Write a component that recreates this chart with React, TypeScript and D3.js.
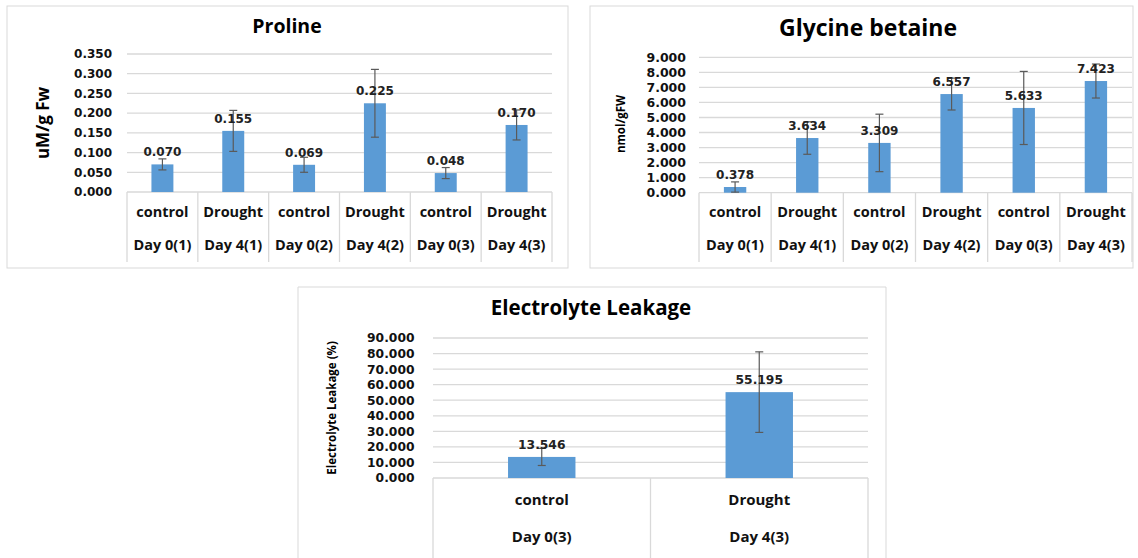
import React from "react";
import * as d3 from "d3";

// ---------- data ----------
const prolineTreatments = ["control", "Drought", "control", "Drought", "control", "Drought"];
const prolineDays = ["Day 0(1)", "Day 4(1)", "Day 0(2)", "Day 4(2)", "Day 0(3)", "Day 4(3)"];
const prolineValues = [0.07, 0.155, 0.069, 0.225, 0.048, 0.17];
const prolineErrors = [0.014, 0.052, 0.019, 0.086, 0.014, 0.038];
const prolineTicks = [0, 0.05, 0.1, 0.15, 0.2, 0.25, 0.3, 0.35];

const glycineTreatments = ["control", "Drought", "control", "Drought", "control", "Drought"];
const glycineDays = ["Day 0(1)", "Day 4(1)", "Day 0(2)", "Day 4(2)", "Day 0(3)", "Day 4(3)"];
const glycineValues = [0.378, 3.634, 3.309, 6.557, 5.633, 7.423];
const glycineErrors = [0.34, 1.08, 1.91, 1.06, 2.43, 1.13];
const glycineTicks = [0, 1, 2, 3, 4, 5, 6, 7, 8, 9];

const elTreatments = ["control", "Drought"];
const elDays = ["Day 0(3)", "Day 4(3)"];
const elValues = [13.546, 55.195];
const elErrors = [5.5, 25.9];
const elTicks = [0, 10, 20, 30, 40, 50, 60, 70, 80, 90];

// ---------- styles ----------
const BAR = "#5b9bd5";
const GRID = "#d9d9d9";
const ERR = "#5a5a5a";
const NUMFONT = "'DejaVu Sans', Verdana, sans-serif";
const TXTFONT = "'Open Sans', 'Noto Sans', sans-serif";

type PanelProps = {
  box: [number, number, number, number];
  plot: { left: number; right: number; top: number; bottom: number };
  title: string;
  titleX: number;
  titleY: number;
  titleSize: number;
  yTitle: React.ReactNode;
  yTitleX: number;
  yTitleY: number;
  yTitleSize: number;
  treatments: string[];
  days: string[];
  values: number[];
  errors: number[];
  ticks: number[];
  fmt: (v: number) => string;
  catY1: number;
  catY2: number;
  sepBottom: number;
  tickSize: number;
  tickGap: number;
  labelSize: number;
  catSize: number;
  openBottom?: boolean;
};

function Panel(p: PanelProps) {
  const { plot } = p;
  const cats = p.values.map((_, i) => String(i));
  const x = d3.scaleBand<string>().domain(cats).range([plot.left, plot.right]).padding(0);
  const y = d3
    .scaleLinear()
    .domain([0, p.ticks[p.ticks.length - 1]])
    .range([plot.bottom, plot.top]);
  const bw = x.bandwidth() * 0.31;
  const [bx, by, bwid, bh] = p.box;
  return (
    <g>
      {p.openBottom ? (
        <path
          d={`M${bx},${by + bh}V${by}H${bx + bwid}V${by + bh}`}
          fill="#fff"
          stroke={GRID}
          strokeWidth={1}
        />
      ) : (
        <rect x={bx} y={by} width={bwid} height={bh} fill="#fff" stroke={GRID} strokeWidth={1} />
      )}
      <text
        x={p.titleX}
        y={p.titleY}
        textAnchor="middle"
        fontFamily={TXTFONT}
        fontWeight="bold"
        fontSize={p.titleSize}
        fill="#000"
      >
        {p.title}
      </text>
      {p.ticks.map((t) => (
        <g key={t}>
          <line x1={plot.left} x2={plot.right} y1={y(t)} y2={y(t)} stroke={GRID} strokeWidth={1.3} />
          <text
            x={plot.left - p.tickGap}
            y={y(t)}
            dy="0.36em"
            textAnchor="end"
            fontFamily={NUMFONT}
            fontWeight="bold"
            fontSize={p.tickSize}
            fill="#111"
          >
            {p.fmt(t)}
          </text>
        </g>
      ))}
      {d3.range(cats.length + 1).map((i) => {
        const xx = i < cats.length ? (x(cats[i]) as number) : plot.right;
        return (
          <line key={i} x1={xx} x2={xx} y1={plot.bottom} y2={p.sepBottom} stroke={GRID} strokeWidth={1.3} />
        );
      })}
      <text
        transform={`translate(${p.yTitleX},${p.yTitleY}) rotate(-90)`}
        textAnchor="middle"
        dy="0.35em"
        fontFamily={TXTFONT}
        fontWeight="bold"
        fontSize={p.yTitleSize}
        fill="#000"
      >
        {p.yTitle}
      </text>
      {p.values.map((v, i) => {
        const cx = (x(cats[i]) as number) + x.bandwidth() / 2;
        const e = p.errors[i];
        const lo = Math.max(0, v - e);
        const hi = v + e;
        return (
          <g key={i}>
            <rect x={cx - bw / 2} y={y(v)} width={bw} height={y(0) - y(v)} fill={BAR} />
            <line x1={cx} x2={cx} y1={y(hi)} y2={y(lo)} stroke={ERR} strokeWidth={1.2} />
            <line x1={cx - 4} x2={cx + 4} y1={y(hi)} y2={y(hi)} stroke={ERR} strokeWidth={1.2} />
            <line x1={cx - 4} x2={cx + 4} y1={y(lo)} y2={y(lo)} stroke={ERR} strokeWidth={1.2} />
            <text
              x={cx}
              y={y(v) - 8}
              textAnchor="middle"
              fontFamily={NUMFONT}
              fontWeight="bold"
              fontSize={p.labelSize}
              fill="#222"
            >
              {p.fmt(v)}
            </text>
            <text
              x={cx}
              y={p.catY1}
              dy="0.35em"
              textAnchor="middle"
              fontFamily={TXTFONT}
              fontWeight="bold"
              fontSize={p.catSize}
              fill="#111"
            >
              {p.treatments[i]}
            </text>
            <text
              x={cx}
              y={p.catY2}
              dy="0.35em"
              textAnchor="middle"
              fontFamily={TXTFONT}
              fontWeight="bold"
              fontSize={p.catSize}
              fill="#111"
            >
              {p.days[i]}
            </text>
          </g>
        );
      })}
    </g>
  );
}

const fmt3 = d3.format(".3f");

export default function App() {
  return (
    <svg
      width={1138}
      height={558}
      style={{ position: "absolute", left: 0, top: 0, display: "block", background: "#fff" }}
    >
      <rect width={1138} height={558} fill="#fff" />
      <Panel
        box={[7, 6, 561, 262]}
        plot={{ left: 127, right: 552, top: 54, bottom: 192 }}
        title="Proline"
        titleX={287}
        titleY={33}
        titleSize={19.5}
        yTitle="uM/g Fw"
        yTitleX={43}
        yTitleY={123}
        yTitleSize={17}
        treatments={prolineTreatments}
        days={prolineDays}
        values={prolineValues}
        errors={prolineErrors}
        ticks={prolineTicks}
        fmt={fmt3}
        catY1={212}
        catY2={245}
        sepBottom={262}
        tickSize={12}
        tickGap={15}
        labelSize={12}
        catSize={14.5}
      />
      <Panel
        box={[590, 6, 543, 262]}
        plot={{ left: 699, right: 1132, top: 57.3, bottom: 192.7 }}
        title="Glycine betaine"
        titleX={868}
        titleY={36}
        titleSize={23}
        yTitle="nmol/gFW"
        yTitleX={621}
        yTitleY={124}
        yTitleSize={11.5}
        treatments={glycineTreatments}
        days={glycineDays}
        values={glycineValues}
        errors={glycineErrors}
        ticks={glycineTicks}
        fmt={fmt3}
        catY1={212}
        catY2={245}
        sepBottom={262}
        tickSize={12.5}
        tickGap={13}
        labelSize={12}
        catSize={14.5}
      />
      <Panel
        box={[298, 287, 588, 275]}
        openBottom
        plot={{ left: 433, right: 868, top: 338, bottom: 478 }}
        title="Electrolyte Leakage"
        titleX={591}
        titleY={315}
        titleSize={20.5}
        yTitle="Electrolyte Leakage (%)"
        yTitleX={332}
        yTitleY={408}
        yTitleSize={11.5}
        treatments={elTreatments}
        days={elDays}
        values={elValues}
        errors={elErrors}
        ticks={elTicks}
        fmt={fmt3}
        catY1={500}
        catY2={537}
        sepBottom={558}
        tickSize={12.3}
        tickGap={18.5}
        labelSize={12.3}
        catSize={15}
      />
    </svg>
  );
}
